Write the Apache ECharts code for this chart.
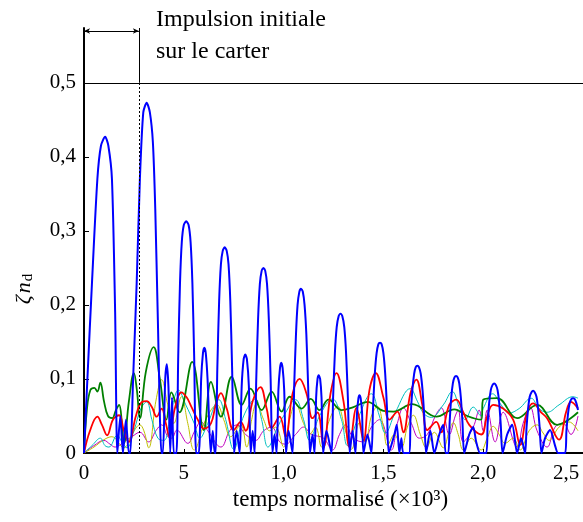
<!DOCTYPE html>
<html>
<head>
<meta charset="utf-8">
<script src="https://cdn.jsdelivr.net/npm/echarts@6/dist/echarts.min.js"></script>
<style>
html,body{margin:0;padding:0;background:#fff;}
#chart{width:583px;height:522px;}
</style>
</head>
<body>
<div id="chart"></div>
<script>
// Tick values and labels
const xTickValues = [0, 0.5, 1.0, 1.5, 2.0, 2.5];
const xTickLabels = ['0', '5', '1,0', '1,5', '2,0', '2,5'];
const yTickValues = [0, 0.1, 0.2, 0.3, 0.4, 0.5];
const yTickLabels = ['0', '0,1', '0,2', '0,3', '0,4', '0,5'];

// Annotation
const impulseEnd = 0.275;
const refLevel = 0.5;
const arrowLevel = 0.570;
const annotationLines = ['Impulsion initiale', 'sur le carter'];

// Series data [x, y]
const blue = [
 [0,0],[0.017,0.1],[0.04,0.23],[0.067,0.37],[0.085,0.415],[0.106,0.427],[0.122,0.415],[0.14,0.37],[0.156,0.19],[0.167,0],
 [0.182,0.05],[0.195,0],[0.21,0.045],[0.225,0],
 [0.232,0],[0.246,0.1],[0.264,0.23],[0.28,0.37],[0.297,0.46],[0.314,0.473],[0.33,0.46],[0.345,0.42],[0.357,0.33],[0.37,0.18],[0.388,0],
 [0.395,0],[0.407,0.1],[0.415,0.12],[0.423,0.09],[0.432,0],[0.441,0.075],[0.45,0],
 [0.463,0],[0.472,0.13],[0.481,0.23],[0.49,0.285],[0.5,0.308],[0.512,0.313],[0.524,0.308],[0.534,0.285],[0.543,0.23],[0.552,0.13],[0.562,0],
 [0.575,0],[0.587,0.1],[0.596,0.135],[0.603,0.142],[0.61,0.135],[0.619,0.1],[0.635,0],[0.645,0.03],[0.655,0],
 [0.66,0],[0.668,0.115],[0.677,0.205],[0.686,0.255],[0.695,0.273],[0.705,0.278],[0.715,0.273],[0.724,0.255],[0.733,0.205],[0.742,0.115],[0.752,0],
 [0.765,0.03],[0.78,0],[0.79,0.09],[0.8,0.127],[0.808,0.133],[0.816,0.127],[0.826,0.09],[0.835,0],[0.845,0.03],
 [0.855,0],[0.863,0.1],[0.872,0.18],[0.881,0.228],[0.89,0.246],[0.899,0.25],[0.908,0.246],[0.917,0.228],[0.926,0.18],[0.935,0.1],[0.944,0],
 [0.955,0.025],[0.965,0],[0.974,0.085],[0.982,0.115],[0.988,0.122],[0.995,0.115],[1.003,0.085],[1.012,0],[1.025,0.03],
 [1.045,0],[1.053,0.09],[1.062,0.16],[1.07,0.2],[1.079,0.218],[1.087,0.222],[1.096,0.218],[1.105,0.2],[1.114,0.16],[1.123,0.09],[1.132,0],
 [1.145,0.025],[1.155,0],[1.163,0.075],[1.17,0.1],[1.176,0.105],[1.183,0.1],[1.19,0.075],[1.198,0],[1.215,0.03],
 [1.24,0],[1.248,0.075],[1.257,0.135],[1.266,0.17],[1.276,0.185],[1.285,0.188],[1.294,0.185],[1.304,0.17],[1.313,0.135],[1.322,0.075],[1.331,0],
 [1.345,0.03],[1.36,0],[1.368,0.055],[1.375,0.074],[1.38,0.078],[1.386,0.074],[1.393,0.055],[1.4,0],[1.42,0.025],
 [1.44,0],[1.448,0.06],[1.457,0.107],[1.466,0.135],[1.475,0.147],[1.483,0.149],[1.491,0.147],[1.5,0.135],[1.509,0.107],[1.518,0.06],[1.527,0],
 [1.555,0.025],[1.567,0.038],[1.58,0],[1.59,0.02],[1.6,0],
 [1.628,0],[1.636,0.048],[1.645,0.085],[1.654,0.107],[1.662,0.116],[1.67,0.118],[1.678,0.116],[1.687,0.107],[1.696,0.085],[1.705,0.048],[1.714,0],
 [1.735,0.03],[1.755,0],[1.78,0.025],[1.8,0.038],[1.812,0],
 [1.825,0],[1.832,0.042],[1.84,0.075],[1.848,0.094],[1.856,0.102],[1.864,0.104],[1.872,0.102],[1.88,0.094],[1.888,0.075],[1.896,0.042],[1.905,0],
 [1.93,0.025],[1.95,0.035],[1.965,0.015],[1.985,0],
 [2.015,0],[2.022,0.038],[2.03,0.068],[2.038,0.085],[2.047,0.092],[2.055,0.094],[2.063,0.092],[2.072,0.085],[2.08,0.068],[2.088,0.038],[2.097,0],
 [2.12,0.025],[2.145,0.038],[2.17,0],[2.19,0.02],[2.21,0],
 [2.217,0.034],[2.225,0.06],[2.233,0.076],[2.242,0.082],[2.25,0.084],[2.258,0.082],[2.267,0.076],[2.275,0.06],[2.283,0.034],[2.292,0],
 [2.31,0.02],[2.335,0.031],[2.36,0.01],[2.375,0],
 [2.41,0],[2.417,0.03],[2.425,0.053],[2.433,0.067],[2.442,0.073],[2.45,0.074],[2.458,0.073],[2.467,0.067],[2.475,0.058]
];
const green = [
 [0,0],[0.015,0.06],[0.032,0.085],[0.052,0.088],[0.067,0.083],[0.082,0.095],[0.1,0.07],[0.12,0.05],[0.141,0.047],[0.16,0.058],
 [0.176,0.065],[0.19,0.04],[0.2,0.013],[0.225,0.07],[0.25,0.108],[0.265,0.085],[0.28,0.047],[0.31,0.11],[0.349,0.143],[0.38,0.1],
 [0.413,0.045],[0.438,0.082],[0.478,0.055],[0.542,0.123],[0.6,0.031],[0.636,0.096],[0.686,0.049],[0.74,0.103],[0.79,0.065],[0.834,0.087],
 [0.89,0.058],[0.94,0.083],[0.99,0.056],[1.03,0.076],[1.09,0.06],[1.136,0.073],[1.18,0.058],[1.225,0.072],[1.29,0.058],[1.35,0.062],
 [1.42,0.069],[1.5,0.057],[1.55,0.056],[1.645,0.066],[1.765,0.049],[1.855,0.059],[1.92,0.05],[1.99,0.045],[2.0,0.072],[2.07,0.074],
 [2.17,0.047],[2.27,0.065],[2.37,0.038],[2.475,0.055]
];
const red = [
 [0,0],[0.03,0.03],[0.067,0.049],[0.09,0.038],[0.116,0.024],[0.145,0.045],[0.176,0.051],[0.2,0.03],[0.225,0.015],[0.26,0.05],
 [0.29,0.069],[0.314,0.07],[0.34,0.062],[0.364,0.049],[0.389,0.06],[0.41,0.04],[0.428,0.022],[0.455,0.06],[0.488,0.082],[0.515,0.075],
 [0.537,0.063],[0.57,0.045],[0.6,0.033],[0.636,0.04],[0.66,0.065],[0.686,0.081],[0.715,0.06],[0.75,0.031],[0.785,0.042],[0.81,0.03],
 [0.845,0.07],[0.884,0.089],[0.915,0.06],[0.94,0.034],[0.98,0.049],[1.01,0.022],[1.045,0.08],[1.08,0.1],[1.115,0.08],[1.145,0.047],
 [1.17,0.055],[1.2,0.008],[1.235,0.08],[1.265,0.108],[1.3,0.07],[1.33,0.008],[1.365,0.061],[1.4,0.017],[1.43,0.085],[1.462,0.108],
 [1.5,0.075],[1.53,0.045],[1.57,0.056],[1.6,0.028],[1.635,0.08],[1.665,0.099],[1.695,0.065],[1.72,0.031],[1.765,0.042],[1.79,0.028],
 [1.83,0.065],[1.865,0.072],[1.9,0.055],[1.93,0.038],[1.99,0.025],[2.02,0.05],[2.05,0.065],[2.1,0.06],[2.15,0.045],[2.185,0.011],
 [2.22,0.055],[2.25,0.067],[2.29,0.055],[2.32,0.047],[2.38,0.018],[2.415,0.055],[2.44,0.069],[2.475,0.06]
];
const cyan = [
 [0,0],[0.04,0.01],[0.082,0.02],[0.105,0.01],[0.125,0.008],[0.166,0.024],[0.19,0.015],[0.215,0.007],[0.25,0.03],[0.285,0.06],
 [0.314,0.069],[0.34,0.045],[0.37,0.02],[0.4,0.017],[0.44,0.06],[0.473,0.085],[0.51,0.065],[0.552,0.04],[0.58,0.02],[0.62,0.04],
 [0.676,0.072],[0.71,0.045],[0.75,0.005],[0.8,0.05],[0.858,0.073],[0.89,0.045],[0.922,0.008],[0.97,0.035],[1.0,0.05],[1.06,0.072],
 [1.1,0.045],[1.13,0.017],[1.18,0.05],[1.245,0.073],[1.29,0.045],[1.32,0.01],[1.37,0.045],[1.44,0.08],[1.48,0.05],[1.51,0.027],
 [1.56,0.055],[1.635,0.087],[1.67,0.07],[1.7,0.054],[1.74,0.048],[1.8,0.065],[1.845,0.083],[1.88,0.062],[1.91,0.045],[1.95,0.062],
 [1.99,0.05],[2.0,0.06],[2.047,0.08],[2.09,0.065],[2.13,0.054],[2.18,0.06],[2.24,0.074],[2.28,0.06],[2.32,0.055],[2.38,0.065],
 [2.45,0.076],[2.475,0.074]
];
const yellow = [
 [0,0],[0.05,0.008],[0.1,0.018],[0.14,0.022],[0.2,0.007],[0.24,0.025],[0.28,0.038],[0.3,0.03],[0.324,0.007],[0.36,0.07],
 [0.389,0.099],[0.42,0.065],[0.45,0.04],[0.488,0.076],[0.52,0.04],[0.552,0.004],[0.61,0.045],[0.666,0.065],[0.7,0.045],[0.735,0.022],
 [0.785,0.038],[0.815,0.008],[0.84,0.045],[0.865,0.067],[0.9,0.045],[0.93,0.03],[0.96,0.035],[1.0,0.008],[1.03,0.045],[1.06,0.067],
 [1.1,0.04],[1.13,0.025],[1.16,0.035],[1.19,0.008],[1.23,0.045],[1.27,0.063],[1.31,0.03],[1.34,0.005],[1.38,0.041],[1.41,0.015],
 [1.44,0.05],[1.47,0.063],[1.5,0.035],[1.52,0.01],[1.555,0.025],[1.59,0.007],[1.62,0.035],[1.65,0.051],[1.685,0.025],[1.715,0.007],
 [1.755,0.028],[1.8,0.007],[1.83,0.03],[1.85,0.041],[1.875,0.025],[1.9,0.004],[1.94,0.02],[1.99,0.004],[2.02,0.02],[2.05,0.036],
 [2.08,0.025],[2.11,0.013],[2.15,0.02],[2.185,0.004],[2.23,0.03],[2.27,0.038],[2.3,0.027],[2.33,0.017],[2.38,0.035],[2.43,0.042],
 [2.475,0.03]
];
const magenta = [
 [0,0],[0.05,0.01],[0.1,0.017],[0.13,0.012],[0.156,0.008],[0.2,0.015],[0.24,0.022],[0.28,0.028],[0.324,0.015],[0.36,0.03],
 [0.389,0.038],[0.42,0.022],[0.44,0.02],[0.465,0.031],[0.52,0.013],[0.555,0.03],[0.586,0.042],[0.62,0.03],[0.686,0.008],[0.73,0.03],
 [0.765,0.038],[0.81,0.025],[0.86,0.017],[0.9,0.03],[0.94,0.035],[0.98,0.015],[1.01,0.012],[1.06,0.025],[1.1,0.035],[1.14,0.025],
 [1.2,0.02],[1.245,0.004],[1.28,0.025],[1.31,0.038],[1.35,0.02],[1.4,0.015],[1.44,0.035],[1.48,0.045],[1.54,0.004],[1.57,0.04],
 [1.6,0.061],[1.64,0.04],[1.68,0.02],[1.72,0.025],[1.76,0.05],[1.79,0.061],[1.83,0.025],[1.86,0.05],[1.875,0.058],[1.9,0.015],
 [1.95,0.035],[1.98,0.058],[2.0,0.03],[2.02,0.058],[2.06,0.015],[2.1,0.055],[2.17,0.008],[2.2,0.04],[2.235,0.062],[2.27,0.03],
 [2.32,0.008],[2.36,0.035],[2.4,0.04],[2.44,0.025],[2.475,0.05]
];

const FONT = '"Liberation Serif", "DejaVu Serif", serif';

function mk(name, data, color, width, smooth, extra) {
  return Object.assign({
    name: name, type: 'line', data: data, showSymbol: false, symbol: 'none',
    smooth: smooth, clip: true,
    lineStyle: { color: color, width: width }, itemStyle: { color: color },
    emphasis: { disabled: true }, silent: true
  }, extra || {});
}

const chart = echarts.init(document.getElementById('chart'), null, { renderer: 'canvas' });
const option = {
  animation: false,
  backgroundColor: '#ffffff',
  grid: { left: 84, right: -6, top: 28, bottom: 69, containLabel: false },
  xAxis: {
    type: 'value', min: 0, max: 2.5,
    name: 'temps normalisé (×10³)', nameLocation: 'middle', nameGap: 35,
    nameTextStyle: { fontFamily: FONT, fontSize: 23, color: '#000', padding: [0, 0, 0, 14] },
    axisLine: { show: true, onZero: false, lineStyle: { color: '#000', width: 2 } },
    axisTick: { show: true, inside: true, length: 4, customValues: xTickValues, lineStyle: { color: '#000', width: 1 } },
    axisLabel: {
      customValues: xTickValues, margin: 10, color: '#000', fontFamily: FONT, fontSize: 21,
      formatter: function (v) {
        const i = xTickValues.findIndex(t => Math.abs(t - v) < 1e-6);
        if (i < 0) return '';
        if (i === xTickValues.length - 1) return '{r|' + xTickLabels[i] + '}';
        return xTickLabels[i];
      },
      rich: { r: { fontFamily: FONT, fontSize: 21, color: '#000', padding: [0, 34, 0, 0] } }
    },
    splitLine: { show: false }
  },
  yAxis: {
    type: 'value', min: 0, max: 0.574,
    axisLine: { show: true, lineStyle: { color: '#000', width: 2 } },
    axisTick: { show: true, inside: true, length: 5, customValues: yTickValues, lineStyle: { color: '#000', width: 1 } },
    axisLabel: {
      customValues: yTickValues, margin: 8, color: '#000', fontFamily: FONT, fontSize: 21,
      formatter: function (v) {
        const i = yTickValues.findIndex(t => Math.abs(t - v) < 1e-6);
        return i < 0 ? '' : yTickLabels[i];
      }
    },
    splitLine: { show: false }
  },
  graphic: [
    { type: 'text', x: 156, y: 20, silent: true,
      style: { text: annotationLines[0], font: '24px ' + FONT, fill: '#000', verticalAlign: 'middle', align: 'left' } },
    { type: 'text', x: 156, y: 52, silent: true,
      style: { text: annotationLines[1], font: '24px ' + FONT, fill: '#000', verticalAlign: 'middle', align: 'left' } },
    { type: 'text', x: 24, y: 289, rotation: Math.PI / 2, silent: true,
      style: {
        text: '{z|ζ}{n|n}{d|d}', align: 'center', verticalAlign: 'middle',
        rich: {
          z: { fontFamily: FONT, fontStyle: 'italic', fontSize: 22, fill: '#000', lineHeight: 24, verticalAlign: 'middle', padding: [0, 2, 0, 0] },
          n: { fontFamily: FONT, fontStyle: 'italic', fontSize: 22, fill: '#000', lineHeight: 24, verticalAlign: 'middle' },
          d: { fontFamily: FONT, fontSize: 15, fill: '#000', lineHeight: 14, verticalAlign: 'bottom', padding: [0, 0, 0, 1] }
        }
      } }
  ],
  series: [
    mk('m', magenta, '#bf00bf', 1, 0.4, {
      markLine: {
        silent: true, animation: false, symbol: 'none',
        label: { show: false },
        data: [
          [{ coord: [0, refLevel], lineStyle: { color: '#000', width: 1, type: 'solid' } }, { coord: [2.5, refLevel] }],
          [{ coord: [impulseEnd, 0], lineStyle: { color: '#000', width: 1, type: [2, 2] } }, { coord: [impulseEnd, refLevel] }],
          [{ coord: [impulseEnd, refLevel], lineStyle: { color: '#000', width: 1, type: 'solid' } }, { coord: [impulseEnd, 0.574] }],
          [{ coord: [0, arrowLevel], symbol: 'arrow', symbolSize: [4, 6], lineStyle: { color: '#000', width: 1, type: 'solid' } },
           { coord: [impulseEnd, arrowLevel], symbol: 'arrow', symbolSize: [4, 6] }]
        ]
      }
    }),
    mk('y', yellow, '#bfbf00', 1, 0.4),
    mk('c', cyan, '#00bfbf', 1, 0.4),
    mk('g', green, '#008000', 1.8, 0.4),
    mk('r', red, '#ff0000', 1.8, 0.4),
    mk('b', blue, '#0000ff', 2, 0.25)
  ]
};
chart.setOption(option);
</script>
</body>
</html>
